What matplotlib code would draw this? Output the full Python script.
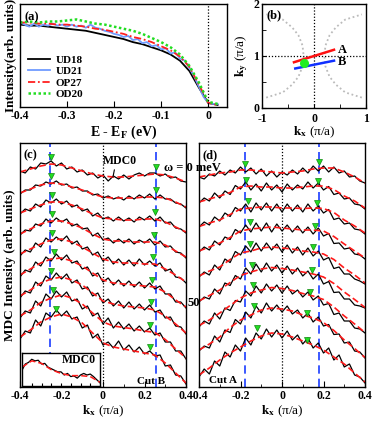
import matplotlib
matplotlib.use("Agg")
import matplotlib.pyplot as plt
import numpy as np

plt.rcParams['font.family'] = ['Liberation Serif', 'DejaVu Serif']
plt.rcParams['font.weight'] = 'bold'
plt.rcParams['mathtext.fontset'] = 'stix'
plt.rcParams['xtick.direction'] = 'in'
plt.rcParams['ytick.direction'] = 'in'
plt.rcParams['axes.linewidth'] = 1.0

# ---- (a) EDCs ----
e_smooth = [-0.40, -0.38, -0.36, -0.34, -0.32, -0.30, -0.28, -0.26, -0.24, -0.22, -0.20,
            -0.18, -0.16, -0.14, -0.12, -0.10, -0.08, -0.06, -0.04, -0.02, 0.00, 0.02]
ud18 = [0.80, 0.79, 0.79, 0.78, 0.77, 0.76, 0.75, 0.74, 0.72, 0.70, 0.68,
        0.66, 0.63, 0.61, 0.58, 0.55, 0.51, 0.45, 0.35, 0.19, 0.04, 0.02]
op27 = [0.82, 0.82, 0.81, 0.81, 0.80, 0.80, 0.79, 0.78, 0.76, 0.75, 0.73,
        0.71, 0.68, 0.66, 0.63, 0.59, 0.55, 0.49, 0.39, 0.22, 0.04, 0.02]
od20 = [0.82, 0.83, 0.82, 0.83, 0.83, 0.84, 0.85, 0.83, 0.81, 0.80, 0.78,
        0.76, 0.74, 0.71, 0.67, 0.63, 0.58, 0.51, 0.40, 0.24, 0.05, 0.03]
e_ud21 = [-0.40, -0.39, -0.38, -0.37, -0.36, -0.35, -0.34, -0.33, -0.32, -0.31, -0.30,
          -0.29, -0.28, -0.27, -0.26, -0.25, -0.24, -0.23, -0.22, -0.21, -0.20, -0.19,
          -0.18, -0.17, -0.16, -0.15, -0.14, -0.13, -0.12, -0.11, -0.10, -0.09, -0.08,
          -0.07, -0.06, -0.05, -0.04, -0.03, -0.02, -0.01, 0.00, 0.01, 0.02]
ud21 = [0.82, 0.80, 0.78, 0.81, 0.78, 0.80, 0.79, 0.81, 0.79, 0.80, 0.78,
        0.80, 0.78, 0.79, 0.77, 0.80, 0.77, 0.76, 0.74, 0.73, 0.71, 0.70,
        0.68, 0.69, 0.65, 0.66, 0.62, 0.63, 0.59, 0.60, 0.56, 0.57, 0.52,
        0.53, 0.47, 0.45, 0.38, 0.30, 0.20, 0.10, 0.04, 0.03, 0.03]

# ---- (b) Brillouin zone sketch ----
fs_ky = [0.2, 0.3, 0.45, 0.6, 0.8, 1.0, 1.2, 1.4, 1.55, 1.7, 1.8]
fs_kx_left = [-0.92, -0.6, -0.42, -0.3, -0.22, -0.2, -0.22, -0.3, -0.42, -0.6, -0.92]
fs_kx_right = [0.92, 0.6, 0.42, 0.3, 0.22, 0.2, 0.22, 0.3, 0.42, 0.6, 0.92]
cut_a_kx, cut_a_ky = [-0.385, 0.385], [0.88, 1.12]
cut_b_kx, cut_b_ky = [-0.36, 0.385], [0.76, 0.91]
spot_kx, spot_ky = -0.19, 0.865

# ---- (c), (d) MDC stacks ----
kx_raw = np.linspace(-0.4, 0.4, 33)
kx_fit = np.linspace(-0.4, 0.4, 17)

mdc_c = [
    [21.6, 21.4, 22.0, 21.8, 22.4, 22.3, 22.6, 22.1, 22.4, 21.8, 22.0, 21.5, 21.7, 21.2, 21.4, 20.9, 21.2,
     20.6, 21.1, 20.8, 21.2, 20.8, 21.2, 21.4, 21.1, 21.4, 21.4, 21.1, 21.3, 20.9, 21.0, 20.6, 20.5],
    [19.3, 19.7, 19.7, 20.2, 20.1, 20.5, 20.3, 20.6, 20.2, 20.3, 19.9, 20.0, 19.6, 19.6, 19.2, 19.3, 18.9,
     19.1, 18.8, 19.0, 18.7, 19.1, 18.8, 19.2, 18.9, 19.3, 18.8, 19.2, 18.8, 18.8, 18.4, 18.3, 17.9],
    [17.3, 17.8, 17.6, 18.3, 18.0, 18.7, 18.4, 18.8, 18.3, 18.6, 18.0, 18.2, 17.6, 17.8, 17.1, 17.4, 16.8,
     17.0, 16.6, 17.0, 16.6, 16.9, 16.5, 17.0, 16.7, 17.1, 16.6, 17.0, 16.4, 16.5, 15.9, 15.8, 15.4],
    [15.2, 15.7, 15.6, 16.3, 16.1, 16.8, 16.4, 16.9, 16.5, 16.8, 16.1, 16.3, 15.8, 15.9, 15.1, 15.4, 14.7,
     14.9, 14.4, 14.8, 14.4, 14.8, 14.3, 14.7, 14.4, 14.8, 14.2, 14.6, 14.0, 14.1, 13.5, 13.4, 12.9],
    [13.1, 13.7, 13.5, 14.4, 14.0, 14.9, 14.5, 15.0, 14.6, 15.1, 14.3, 14.6, 13.8, 14.0, 13.2, 13.5, 12.6,
     13.0, 12.3, 12.8, 12.2, 12.7, 12.1, 12.8, 12.2, 12.6, 12.1, 12.4, 11.6, 11.8, 11.0, 10.9, 10.4],
    [11.0, 11.7, 11.5, 12.5, 12.1, 13.0, 12.6, 13.3, 12.7, 13.2, 12.4, 12.6, 11.8, 12.0, 11.1, 11.4, 10.5,
     10.9, 10.2, 10.7, 10.1, 10.6, 10.0, 10.5, 9.9, 10.4, 9.8, 10.1, 9.3, 9.3, 8.5, 8.5, 7.9],
    [8.9, 9.6, 9.4, 10.5, 10.1, 11.1, 10.7, 11.4, 10.8, 11.3, 10.4, 10.7, 9.8, 10.0, 9.1, 9.4, 8.4,
     8.8, 8.1, 8.6, 7.9, 8.5, 7.8, 8.3, 7.7, 8.2, 7.5, 7.7, 6.9, 7.0, 6.1, 6.0, 5.3],
    [6.9, 7.6, 7.4, 8.6, 8.1, 9.3, 8.8, 9.6, 9.0, 9.5, 8.6, 8.8, 7.8, 8.1, 7.1, 7.4, 6.3,
     6.9, 5.9, 6.5, 5.8, 6.3, 5.6, 6.1, 5.5, 5.9, 5.2, 5.4, 4.5, 4.5, 3.6, 3.6, 2.8],
    [4.8, 5.6, 5.4, 6.7, 6.1, 7.4, 7.0, 7.7, 7.1, 7.6, 6.8, 7.0, 5.9, 6.2, 4.9, 5.3, 4.2,
     4.5, 3.9, 4.6, 3.7, 4.2, 3.5, 4.0, 3.3, 3.6, 3.1, 3.2, 2.1, 2.2, 1.2, 1.1, 0.3],
]
fit_c = [
    [21.5, 21.8, 22.1, 22.3, 22.2, 21.9, 21.6, 21.3, 21.1, 21.0, 21.0, 21.1, 21.2, 21.3, 21.2, 20.9, 20.5],
    [19.4, 19.8, 20.2, 20.4, 20.3, 20.0, 19.7, 19.3, 19.0, 18.9, 18.9, 18.9, 19.0, 19.0, 18.9, 18.5, 18.0],
    [17.4, 17.8, 18.2, 18.5, 18.5, 18.2, 17.8, 17.3, 16.9, 16.8, 16.7, 16.7, 16.8, 16.8, 16.5, 16.0, 15.5],
    [15.3, 15.8, 16.3, 16.6, 16.6, 16.3, 15.9, 15.3, 14.8, 14.6, 14.6, 14.5, 14.5, 14.5, 14.2, 13.6, 13.0],
    [13.3, 13.8, 14.3, 14.7, 14.8, 14.5, 14.0, 13.4, 12.8, 12.5, 12.4, 12.4, 12.3, 12.3, 11.8, 11.2, 10.5],
    [11.2, 11.8, 12.4, 12.8, 12.9, 12.6, 12.1, 11.4, 10.7, 10.4, 10.3, 10.2, 10.1, 10.0, 9.5, 8.7, 8.0],
    [9.1, 9.7, 10.4, 10.8, 11.0, 10.7, 10.2, 9.4, 8.6, 8.3, 8.1, 8.0, 7.9, 7.7, 7.1, 6.3, 5.4],
    [7.1, 7.7, 8.45, 8.9, 9.2, 8.9, 8.3, 7.4, 6.5, 6.1, 5.95, 5.8, 5.6, 5.45, 4.75, 3.8, 2.9],
    [5.0, 5.7, 6.5, 7.0, 7.3, 7.0, 6.4, 5.4, 4.4, 4.0, 3.8, 3.6, 3.4, 3.2, 2.4, 1.4, 0.4],
]
peak_c_left_kx = [-0.25, -0.25, -0.245, -0.245, -0.245, -0.235, -0.25, -0.24, -0.225]
peak_c_left_y = [23.0, 21.1, 19.2, 17.3, 15.4, 13.5, 11.6, 9.7, 7.8]
peak_c_right_kx = [0.255, 0.255, 0.25, 0.245, 0.24, 0.235, 0.23, 0.225, 0.225]
peak_c_right_y = [22.0, 19.7, 17.5, 15.2, 13.0, 10.7, 8.5, 6.2, 4.0]

mdc_d = [
    [21.0, 20.8, 21.3, 21.1, 21.6, 21.2, 21.7, 21.4, 22.0, 21.5, 21.9, 21.3, 21.8, 21.1, 21.6, 21.0, 21.5,
     21.2, 21.7, 21.3, 21.9, 21.4, 22.1, 21.6, 22.1, 21.5, 22.0, 21.4, 21.6, 21.0, 21.1, 20.6, 20.4],
    [18.4, 18.9, 18.6, 19.4, 18.9, 19.6, 19.25, 20.15, 19.8, 20.5, 19.7, 20.3, 19.6, 20.4, 19.7, 20.2, 19.5,
     20.3, 19.7, 20.2, 19.8, 20.5, 19.9, 20.4, 19.7, 20.05, 19.25, 19.4, 18.8, 18.9, 18.3, 18.2, 17.8],
    [16.0, 16.5, 16.2, 17.0, 16.6, 17.4, 17.05, 17.95, 17.6, 18.3, 17.5, 18.4, 17.7, 18.4, 17.6, 18.3, 17.5,
     18.3, 17.6, 18.2, 17.5, 18.3, 17.6, 18.1, 17.4, 17.75, 16.75, 16.9, 16.3, 16.4, 15.8, 15.7, 15.3],
    [13.5, 14.0, 13.7, 14.6, 14.2, 15.0, 14.75, 15.75, 15.4, 16.2, 15.5, 16.4, 15.6, 16.4, 15.5, 16.3, 15.6,
     16.2, 15.5, 16.1, 15.4, 16.0, 15.3, 15.9, 15.1, 15.35, 14.35, 14.4, 13.8, 13.9, 13.3, 13.2, 12.8],
    [11.0, 11.5, 11.2, 12.2, 11.7, 12.8, 12.45, 13.55, 13.2, 14.1, 13.5, 14.4, 13.6, 14.4, 13.7, 14.3, 13.5,
     14.2, 13.4, 14.0, 13.2, 13.9, 13.1, 13.6, 12.7, 12.95, 11.85, 12.0, 11.3, 11.3, 10.8, 10.6, 10.3],
    [8.5, 9.0, 8.8, 9.8, 9.3, 10.4, 10.15, 11.15, 10.8, 11.9, 11.3, 12.3, 11.5, 12.4, 11.6, 12.2, 11.4,
     12.1, 11.3, 11.9, 11.1, 11.6, 10.8, 11.3, 10.3, 10.55, 9.45, 9.5, 8.8, 8.8, 8.2, 8.1, 7.9],
    [6.0, 6.6, 6.3, 7.4, 6.8, 7.9, 7.65, 8.65, 8.5, 9.6, 9.1, 10.1, 9.4, 10.3, 9.6, 10.2, 9.4,
     10.1, 9.3, 9.7, 9.0, 9.5, 8.7, 9.1, 8.2, 8.35, 7.25, 7.4, 6.6, 6.6, 5.9, 5.8, 5.4],
    [3.6, 4.1, 3.9, 5.1, 4.5, 5.7, 5.45, 6.75, 6.3, 7.5, 6.9, 8.1, 7.4, 8.4, 7.6, 8.2, 7.5,
     8.1, 7.3, 7.7, 6.9, 7.4, 6.5, 7.0, 6.1, 6.25, 5.25, 5.3, 4.4, 4.5, 3.6, 3.5, 2.9],
    [1.0, 1.8, 1.3, 2.6, 2.1, 3.5, 3.0, 4.2, 3.6, 4.9, 4.2, 5.4, 4.8, 5.8, 5.0, 5.7, 4.9,
     5.6, 4.7, 5.2, 4.3, 4.9, 3.9, 4.4, 3.4, 3.9, 2.7, 3.2, 2.0, 2.3, 1.2, 1.0, 0.4],
]
fit_d = [
    [21.0, 21.2, 21.4, 21.5, 21.7, 21.7, 21.6, 21.5, 21.4, 21.5, 21.6, 21.8, 21.9, 21.9, 21.5, 21.0, 20.4],
    [18.5, 18.8, 19.1, 19.45, 20.0, 20.1, 20.0, 20.0, 19.9, 19.9, 20.0, 20.1, 20.1, 19.75, 19.1, 18.6, 17.9],
    [16.05, 16.4, 16.7, 17.25, 17.8, 17.9, 18.0, 18.0, 17.9, 17.9, 17.85, 17.9, 17.85, 17.45, 16.7, 16.1, 15.4],
    [13.6, 14.0, 14.4, 14.95, 15.6, 15.8, 15.9, 16.0, 15.9, 15.8, 15.7, 15.7, 15.6, 15.05, 14.3, 13.6, 12.9],
    [11.1, 11.6, 12.0, 12.75, 13.4, 13.6, 13.9, 14.0, 13.9, 13.8, 13.6, 13.5, 13.3, 12.75, 11.9, 11.2, 10.4],
    [8.6, 9.15, 9.7, 10.45, 11.15, 11.5, 11.8, 11.95, 11.85, 11.7, 11.5, 11.3, 11.0, 10.35, 9.5, 8.75, 7.95],
    [6.15, 6.7, 7.4, 8.15, 8.9, 9.4, 9.7, 9.95, 9.85, 9.65, 9.35, 9.1, 8.75, 8.0, 7.1, 6.3, 5.45],
    [3.7, 4.3, 5.0, 5.95, 6.7, 7.2, 7.7, 7.9, 7.8, 7.6, 7.2, 6.9, 6.45, 5.65, 4.7, 3.85, 2.95],
    [1.2, 1.9, 2.7, 3.4, 4.0, 4.6, 5.1, 5.4, 5.3, 5.0, 4.6, 4.2, 3.7, 3.0, 2.3, 1.4, 0.5],
]
peak_d_left_kx = [-0.178, -0.172, -0.162, -0.154, -0.154, -0.146, -0.138, -0.135, -0.122]
peak_d_left_y = [22.3, 20.7, 18.6, 16.5, 14.3, 12.2, 10.2, 8.1, 5.9]
peak_d_right_kx = [0.18, 0.175, 0.167, 0.159, 0.148, 0.143, 0.135, 0.122, 0.119]
peak_d_right_y = [22.5, 20.6, 18.4, 16.1, 14.0, 11.7, 9.5, 7.4, 4.7]

kx_inset = np.linspace(-0.4, 0.4, 25)
mdc0_raw = [0.5, 0.7, 0.75, 0.85, 0.8, 0.82, 0.7, 0.72, 0.6, 0.55, 0.5, 0.45, 0.45,
            0.35, 0.4, 0.3, 0.32, 0.25, 0.35, 0.4, 0.35, 0.38, 0.3, 0.2, 0.1]
kx_inset_fit = np.linspace(-0.4, 0.4, 9)
mdc0_fit = [0.6, 0.8, 0.72, 0.52, 0.4, 0.33, 0.33, 0.3, 0.12]

kF_c = 0.255
kF_d = 0.18

W, H = 374, 423
fig = plt.figure(figsize=(W / 100, H / 100), dpi=100)


def box(l, t, r, b):
    return [l / W, 1 - b / H, (r - l) / W, (b - t) / H]


tick_fs = 8.5
green = '#22dd22'

# (a)
ax_a = fig.add_axes(box(20, 4, 227, 107))
ax_a.plot(e_smooth, ud18, color='black', lw=1.3, label='UD18')
ax_a.plot(e_ud21, ud21, color='#6f9bff', lw=1.3, label='UD21')
ax_a.plot(e_smooth, op27, color='#ff2020', lw=1.3, dashes=(4, 1.5, 1, 1.5), label='OP27')
ax_a.plot(e_smooth, od20, color=green, lw=1.8, ls=(0, (1, 1)), label='OD20')
ax_a.axvline(0, color='black', lw=0.9, ls=(0, (1, 1.5)))
ax_a.set_xlim(-0.4, 0.04)
ax_a.set_ylim(0, 1)
ax_a.set_yticks([])
ax_a.set_xticks([-0.4, -0.3, -0.2, -0.1, 0])
ax_a.set_xticklabels(['-0.4', '-0.3', '-0.2', '-0.1', '0'], fontsize=tick_fs, fontweight='bold')
ax_a.tick_params(axis='x', length=4, pad=2)
ax_a.set_xlabel(r'E - E$_{\mathbf{F}}$ (eV)', fontsize=10, fontweight='bold', labelpad=1)
ax_a.set_ylabel('Intensity(arb. units)', fontsize=9.5, fontweight='bold', labelpad=2)
ax_a.text(0.02, 0.93, '(a)', transform=ax_a.transAxes, fontsize=9, fontweight='bold', va='top')
ax_a.legend(loc='lower left', bbox_to_anchor=(0.0, 0.0), frameon=False,
            handlelength=2.0, handletextpad=0.5, labelspacing=0.15, borderaxespad=0.3,
            prop={'weight': 'bold', 'size': 8})

# (b)
ax_b = fig.add_axes(box(262, 4, 366, 108))
ax_b.plot(fs_kx_left, fs_ky, color='#bbbbbb', lw=1.3, ls=(0, (1, 1.5)))
ax_b.plot(fs_kx_right, fs_ky, color='#bbbbbb', lw=1.3, ls=(0, (1, 1.5)))
ax_b.axvline(0, color='black', lw=0.9, ls=(0, (1, 1.5)))
ax_b.axhline(1, color='black', lw=0.9, ls=(0, (1, 1.5)))
ax_b.plot(cut_a_kx, cut_a_ky, color='#ff1010', lw=1.8)
ax_b.plot(cut_b_kx, cut_b_ky, color='#1030ff', lw=1.8)
ax_b.plot([spot_kx], [spot_ky], 'o', color='#22ee22', ms=5.5)
ax_b.text(0.45, 1.12, 'A', fontsize=9, fontweight='bold', va='center')
ax_b.text(0.45, 0.88, 'B', fontsize=9, fontweight='bold', va='center')
ax_b.set_xlim(-1, 1)
ax_b.set_ylim(0, 2)
ax_b.set_xticks([-1, 0, 1])
ax_b.set_xticks([-0.5, 0.5], minor=True)
ax_b.set_yticks([0, 1, 2])
ax_b.set_yticks([0.5, 1.5], minor=True)
ax_b.set_xticklabels(['-1', '0', '1'], fontsize=tick_fs, fontweight='bold')
ax_b.set_yticklabels(['0', '1', '2'], fontsize=tick_fs, fontweight='bold')
ax_b.tick_params(which='both', length=3)
ax_b.tick_params(axis='x', pad=3.5)
ax_b.tick_params(axis='y', pad=2)
ax_b.set_xlabel(r'$\mathbf{k_x}$ (π/a)', fontsize=9.5, fontweight='normal', labelpad=0)
ax_b.set_ylabel(r'$\mathbf{k_y}$ (π/a)', fontsize=9.5, fontweight='normal', labelpad=2)
ax_b.text(0.04, 0.95, '(b)', transform=ax_b.transAxes, fontsize=9, fontweight='bold', va='top')


def mdc_panel(ax, raw, fit, lkx, ly, rkx, ry, kF):
    ax.axvline(0, color='black', lw=0.9, ls=(0, (1, 1.5)))
    ax.axvline(-kF, color='#1a3cff', lw=1.2, dashes=(5, 3))
    ax.axvline(kF, color='#1a3cff', lw=1.2, dashes=(5, 3))
    for y_raw, y_fit in zip(raw, fit):
        ax.plot(kx_raw, y_raw, color='black', lw=0.9)
        ax.plot(kx_fit, y_fit, color='#ff1a1a', lw=1.2, dashes=(4, 2))
    ax.plot(lkx, ly, 'v', ms=5, mfc=green, mec='#118811', mew=0.5, ls='none')
    ax.plot(rkx, ry, 'v', ms=5, mfc=green, mec='#118811', mew=0.5, ls='none')
    ax.set_xlim(-0.4, 0.4)
    ax.set_ylim(0, 24.4)
    ax.set_yticks([])
    ax.set_xticks([-0.4, -0.2, 0, 0.2, 0.4])
    ax.set_xticks([-0.3, -0.1, 0.1, 0.3], minor=True)
    ax.set_xticklabels(['-0.4', '-0.2', '0', '0.2', '0.4'], fontsize=tick_fs, fontweight='bold')
    ax.tick_params(which='major', length=4, pad=2)
    ax.tick_params(which='minor', length=2.5)
    ax.set_xlabel(r'$\mathbf{k_x}$ (π/a)', fontsize=9.5, fontweight='normal', labelpad=1)


ax_c = fig.add_axes(box(20, 143, 186, 387))
mdc_panel(ax_c, mdc_c, fit_c, peak_c_left_kx, peak_c_left_y, peak_c_right_kx, peak_c_right_y, kF_c)
ax_c.set_ylabel('MDC Intensity (arb. units)', fontsize=9.5, fontweight='bold', labelpad=3)
ax_c.text(0.02, 0.975, '(c)', transform=ax_c.transAxes, fontsize=9, fontweight='bold', va='top')
ax_c.annotate('MDC0', xy=(0.048, 21.0), xytext=(0.0, 22.6), fontsize=8.5, fontweight='bold',
              va='center', arrowprops=dict(arrowstyle='-', lw=0.8, color='black', shrinkA=0, shrinkB=0,
                                           relpos=(0.35, 0)))
ax_c.text(0.165, 0.55, 'Cut B', fontsize=8, fontweight='bold', va='center')

ax_d = fig.add_axes(box(199, 143, 365, 387))
mdc_panel(ax_d, mdc_d, fit_d, peak_d_left_kx, peak_d_left_y, peak_d_right_kx, peak_d_right_y, kF_d)
ax_d.text(0.02, 0.975, '(d)', transform=ax_d.transAxes, fontsize=9, fontweight='bold', va='top')
ax_d.text(-0.35, 0.7, 'Cut A', fontsize=8, fontweight='bold', va='center')

fig.text(164 / W, 1 - 168 / H, 'ω = 0 meV', fontsize=9, fontweight='bold', va='center')
fig.text(187 / W, 1 - 303 / H, '50', fontsize=9, fontweight='bold', va='center')

# inset in (c)
ax_in = fig.add_axes(box(22, 353, 100, 386))
ax_in.plot(kx_inset, mdc0_raw, color='black', lw=0.9)
ax_in.plot(kx_inset_fit, mdc0_fit, color='#ff1a1a', lw=1.1, dashes=(4, 2))
ax_in.set_xlim(-0.4, 0.4)
ax_in.set_ylim(0, 1.05)
ax_in.set_yticks([])
ax_in.set_xticks([-0.3, -0.2, -0.1, 0, 0.1, 0.2, 0.3])
ax_in.set_xticklabels([])
ax_in.tick_params(length=2.5)
ax_in.text(0.95, 0.8, 'MDC0', transform=ax_in.transAxes, fontsize=8.5, fontweight='bold',
           ha='right', va='center')

fig.savefig('out.png', dpi=100)
